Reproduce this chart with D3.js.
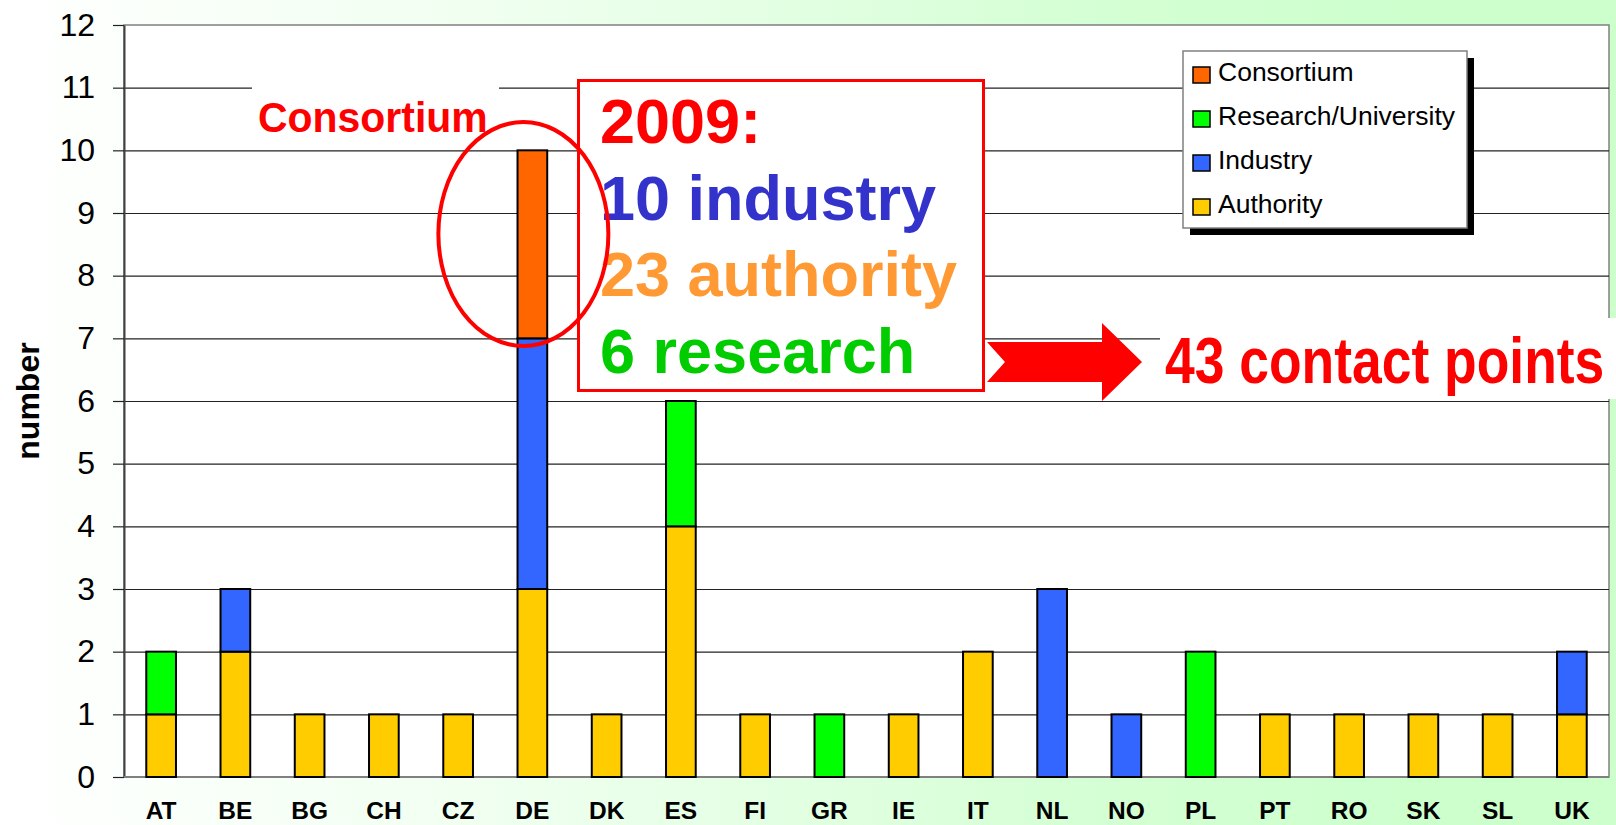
<!DOCTYPE html>
<html>
<head>
<meta charset="utf-8">
<script src="https://cdn.jsdelivr.net/npm/d3@7"></script>
<style>
  body { margin: 0; padding: 0; overflow: hidden; }
  text { font-family: "Liberation Sans", Arial, sans-serif; }
</style>
</head>
<body>
<div id="chart"></div>
<script>
// countries on the x axis
var countries = ["AT", "BE", "BG", "CH", "CZ", "DE", "DK", "ES", "FI", "GR",
                 "IE", "IT", "NL", "NO", "PL", "PT", "RO", "SK", "SL", "UK"];

// contact points per country, one array per type
var authority  = [1, 2, 1, 1, 1, 3, 1, 4, 1, 0, 1, 2, 0, 0, 0, 1, 1, 1, 1, 1];
var industry   = [0, 1, 0, 0, 0, 4, 0, 0, 0, 0, 0, 0, 3, 1, 0, 0, 0, 0, 0, 1];
var research   = [1, 0, 0, 0, 0, 0, 0, 2, 0, 1, 0, 0, 0, 0, 2, 0, 0, 0, 0, 0];
var consortium = [0, 0, 0, 0, 0, 3, 0, 0, 0, 0, 0, 0, 0, 0, 0, 0, 0, 0, 0, 0];

var yTicks = [0, 1, 2, 3, 4, 5, 6, 7, 8, 9, 10, 11, 12];

// stacking order bottom -> top, legend is shown top -> bottom
var seriesKeys = ["Authority", "Industry", "Research/University", "Consortium"];
var seriesColors = {
    "Authority": "#FFCC00",
    "Industry": "#3366FF",
    "Research/University": "#00FF00",
    "Consortium": "#FF6600"
};

// annotation lines in the red box
var summaryLines = [
    {text: "2009:", color: "#FF0000"},
    {text: "10 industry", color: "#3333CC"},
    {text: "23 authority", color: "#FF9933"},
    {text: "6 research", color: "#00CC00"}
];

var width = 1616, height = 825;
var plot = {left: 124, right: 1609, top: 25, bottom: 777};

var svg = d3.select("#chart")
    .append("svg")
    .attr("width", width)
    .attr("height", height)
    .attr("viewBox", "0 0 " + width + " " + height);

// slide background, white fading to pale green
var grad = svg.append("defs").append("linearGradient")
    .attr("id", "bg").attr("x1", "0").attr("x2", "1").attr("y1", "0").attr("y2", "0");
[[0, "#FFFFFF"], [0.3, "#F0FFF0"], [0.68, "#D4FFD4"], [0.9, "#CCFFCC"], [1, "#CCFFCC"]]
    .forEach(function(s) { grad.append("stop").attr("offset", s[0]).attr("stop-color", s[1]); });

svg.append("rect").attr("width", width).attr("height", height).attr("fill", "url(#bg)");
svg.append("rect").attr("width", 17).attr("height", height).attr("fill", "#fff");

var x = d3.scaleBand()
    .domain(countries)
    .range([plot.left, plot.right])
    .paddingInner(0.6)
    .paddingOuter(0.3);

var y = d3.scaleLinear()
    .domain([0, 12])
    .range([plot.bottom, plot.top]);

// plot area
svg.append("rect")
    .attr("x", plot.left).attr("y", plot.top)
    .attr("width", plot.right - plot.left).attr("height", plot.bottom - plot.top)
    .attr("fill", "#fff").attr("stroke", "#808080").attr("stroke-width", 1.5);

// gridlines
var grid = svg.append("g")
    .attr("transform", "translate(" + plot.left + ",0)")
    .call(d3.axisLeft(y).tickValues(yTicks.slice(1, -1)).tickSize(-(plot.right - plot.left)).tickFormat(""));
grid.select(".domain").remove();
grid.selectAll("line").attr("stroke", "#222").attr("stroke-width", 1.2);

// y axis with labels
var yAxis = svg.append("g")
    .attr("transform", "translate(" + plot.left + ",0)")
    .call(d3.axisLeft(y).tickValues(yTicks).tickSize(11).tickPadding(18).tickSizeOuter(0));
yAxis.select(".domain").attr("stroke", "#404040").attr("stroke-width", 2);
yAxis.selectAll("line").attr("stroke", "#222").attr("stroke-width", 1.2);
yAxis.selectAll("text")
    .attr("font-size", 32)
    .attr("font-family", "Liberation Sans, Arial, sans-serif")
    .attr("fill", "#000");

// bottom axis line
svg.append("line")
    .attr("x1", plot.left).attr("x2", plot.right)
    .attr("y1", y(0)).attr("y2", y(0))
    .attr("stroke", "#808080").attr("stroke-width", 2);

// x labels
var xAxis = svg.append("g")
    .attr("transform", "translate(0," + y(0) + ")")
    .call(d3.axisBottom(x).tickSize(0).tickPadding(25));
xAxis.select(".domain").remove();
xAxis.selectAll("text")
    .attr("font-size", 24.5)
    .attr("font-weight", "bold")
    .attr("font-family", "Liberation Sans, Arial, sans-serif")
    .attr("fill", "#000");

// axis title
svg.append("text")
    .attr("transform", "translate(39,401) rotate(-90)")
    .attr("text-anchor", "middle")
    .attr("font-size", 32)
    .attr("font-weight", "bold")
    .text("number");

// stacked bars
var rows = countries.map(function(c, i) {
    return {country: c, "Authority": authority[i], "Industry": industry[i],
            "Research/University": research[i], "Consortium": consortium[i]};
});
var stacked = d3.stack().keys(seriesKeys)(rows);

svg.selectAll(".layer")
    .data(stacked).enter().append("g")
    .attr("class", "layer")
    .attr("fill", function(d) { return seriesColors[d.key]; })
    .selectAll("rect")
    .data(function(d) { return d.filter(function(p) { return p[1] > p[0]; }); })
    .enter().append("rect")
    .attr("x", function(d) { return x(d.data.country); })
    .attr("width", x.bandwidth())
    .attr("y", function(d) { return y(d[1]); })
    .attr("height", function(d) { return y(d[0]) - y(d[1]); })
    .attr("stroke", "#000")
    .attr("stroke-width", 2);

// legend with drop shadow
var legend = svg.append("g").attr("transform", "translate(1183,51)");
legend.append("rect").attr("x", 7).attr("y", 7).attr("width", 284).attr("height", 177).attr("fill", "#000");
legend.append("rect").attr("width", 284).attr("height", 177)
    .attr("fill", "#fff").attr("stroke", "#808080").attr("stroke-width", 1.5);

var legendItems = legend.selectAll(".item")
    .data(seriesKeys.slice().reverse()).enter().append("g")
    .attr("class", "item")
    .attr("transform", function(d, i) { return "translate(0," + (30 + i * 44) + ")"; });
legendItems.append("rect")
    .attr("x", 10).attr("y", -14).attr("width", 17).attr("height", 16)
    .attr("fill", function(d) { return seriesColors[d]; })
    .attr("stroke", "#000").attr("stroke-width", 1.5);
legendItems.append("text")
    .attr("x", 35).attr("y", 0)
    .attr("font-size", 26.5)
    .text(function(d) { return d; });

// "Consortium" callout
svg.append("rect").attr("x", 252).attr("y", 78).attr("width", 247).attr("height", 62).attr("fill", "#fff");
svg.append("text")
    .attr("transform", "translate(258,132) scale(0.975,1)")
    .attr("font-size", 42).attr("font-weight", "bold").attr("fill", "#FF0000")
    .text("Consortium");

// summary box
svg.append("rect")
    .attr("x", 578.5).attr("y", 80.5).attr("width", 405).attr("height", 310)
    .attr("fill", "#fff").attr("stroke", "#FF0000").attr("stroke-width", 3);
svg.selectAll(".summary")
    .data(summaryLines).enter().append("text")
    .attr("class", "summary")
    .attr("x", 600)
    .attr("y", function(d, i) { return 143 + i * 76.7; })
    .attr("font-size", 63).attr("font-weight", "bold")
    .attr("fill", function(d) { return d.color; })
    .text(function(d) { return d.text; });

// ellipse round the consortium part of DE
svg.append("ellipse")
    .attr("cx", x("DE") + x.bandwidth() / 2 - 9).attr("cy", 234)
    .attr("rx", 85).attr("ry", 112)
    .attr("fill", "none").attr("stroke", "#FF0000").attr("stroke-width", 4);

// big arrow and total
svg.append("path")
    .attr("d", "M987,342 L1102,342 L1102,323 L1142,362 L1102,401 L1102,382 L987,382 L1005,362 Z")
    .attr("fill", "#FF0000");

svg.append("rect").attr("x", 1160).attr("y", 318).attr("width", 456).attr("height", 81).attr("fill", "#fff");
// narrow bold look: squeeze horizontally
svg.append("text")
    .attr("transform", "translate(1165,383) scale(0.835,1)")
    .attr("font-size", 64).attr("font-weight", "bold").attr("fill", "#FF0000")
    .text("43 contact points");
</script>
</body>
</html>
